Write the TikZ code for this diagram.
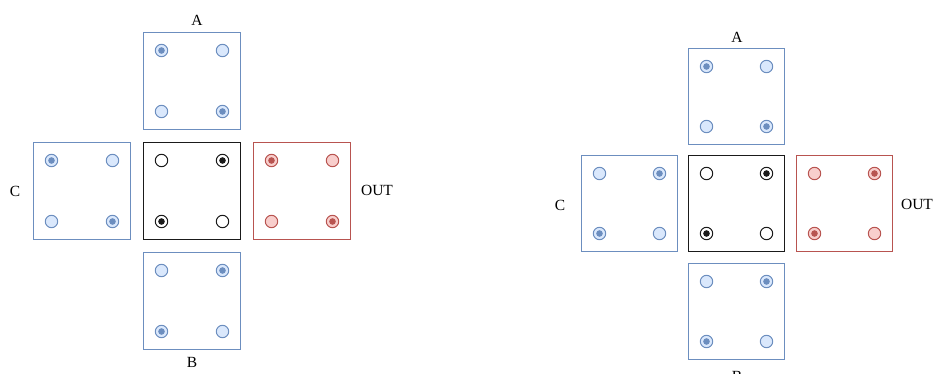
\documentclass[tikz,border=0pt]{standalone}
\usepackage{fontspec}
\setmainfont{Liberation Serif}
\definecolor{bstroke}{HTML}{6C8EBF}
\definecolor{bfill}{HTML}{DAE8FC}
\definecolor{rstroke}{HTML}{B85450}
\definecolor{rfill}{HTML}{F8CECC}
\definecolor{kstroke}{HTML}{1A1A1A}
\definecolor{kfill}{HTML}{FFFFFF}
\colorlet{dotcol}{black}
\tikzset{
  cellframe/.style={draw=#1stroke, line width=1.1pt, inner sep=0pt, outer sep=0pt},
  port/.style={circle, draw=#1stroke, fill=#1fill, line width=1pt,
    minimum size=12.4pt, inner sep=0pt},
  lit/.style={path picture={\fill[dotcol] (path picture bounding box.center) circle (3.3pt);}},
  unlit/.style={},
  lbl/.style={inner sep=0pt, font=\fontsize{15.5}{18}\selectfont},
}
% #1 name, #2 centre, #3 side, #4 colour set (b/r/k), #5..#8 state of the
% top-left, top-right, bottom-left and bottom-right ports
\newcommand\cellbox[8]{%
  \colorlet{dotcol}{#4stroke}%
  \node[cellframe=#4, minimum size=#3] (#1) at (#2) {};
  \node[port=#4, #5] (#1-tl) at ([shift={(18,18)}]#1.north west) {};
  \node[port=#4, #6] (#1-tr) at ([shift={(-18,18)}]#1.north east) {};
  \node[port=#4, #7] (#1-bl) at ([shift={(18,-18)}]#1.south west) {};
  \node[port=#4, #8] (#1-br) at ([shift={(-18,-18)}]#1.south east) {};
}
\begin{document}
\begin{tikzpicture}[x=1pt, y=-1pt]
  \useasboundingbox (0,0) rectangle (935,374);

  % left arrangement
  \cellbox{la}{192,81}{97pt}{b}{lit}{unlit}{unlit}{lit}
  \cellbox{lc}{82,191}{97pt}{b}{lit}{unlit}{unlit}{lit}
  \cellbox{lm}{192,191}{97pt}{k}{unlit}{lit}{lit}{unlit}
  \cellbox{lo}{302,191}{97pt}{r}{lit}{unlit}{unlit}{lit}
  \cellbox{lb}{192,301}{97pt}{b}{unlit}{lit}{lit}{unlit}
  \node[lbl] (la-t) at (197,20.5) {A};
  \node[lbl] (lb-t) at (192,362) {B};
  \node[lbl] (lc-t) at (15,191) {C};
  \node[lbl] (lo-t) at (377,190.5) {OUT};

  % right arrangement
  \cellbox{ra}{736.5,96.5}{96pt}{b}{lit}{unlit}{unlit}{lit}
  \cellbox{rc}{629.5,203.5}{96pt}{b}{unlit}{lit}{lit}{unlit}
  \cellbox{rm}{736.5,203.5}{96pt}{k}{unlit}{lit}{lit}{unlit}
  \cellbox{ro}{844.5,203.5}{96pt}{r}{unlit}{lit}{lit}{unlit}
  \cellbox{rb}{736.5,311.5}{96pt}{b}{unlit}{lit}{lit}{unlit}
  \node[lbl] (ra-t) at (737,37) {A};
  \node[lbl] (rb-t) at (737,376.5) {B};
  \node[lbl] (rc-t) at (560,205) {C};
  \node[lbl] (ro-t) at (917,204) {OUT};
\end{tikzpicture}
\end{document}
